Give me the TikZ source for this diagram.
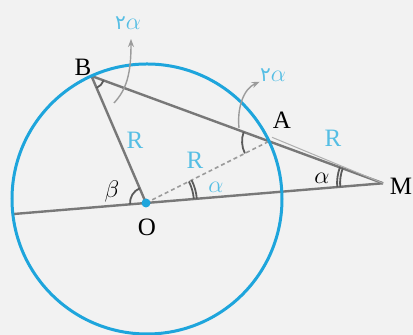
\documentclass[tikz,border=0pt]{standalone}
\usepackage{fontspec}
\setmainfont{Liberation Serif}
\newfontfamily\persianfont[Script=Arabic]{DejaVu Sans}
\usetikzlibrary{calc,angles,arrows.meta}
\definecolor{bgc}{RGB}{242,242,242}
\definecolor{circc}{RGB}{30,165,220}
\definecolor{labc}{RGB}{85,190,228}
\definecolor{linec}{RGB}{120,120,120}
\definecolor{markc}{RGB}{90,90,90}
\definecolor{arrc}{RGB}{155,155,155}
\tikzset{
  gline/.style={linec, line width=1.2pt},
  dline/.style={arrc, line width=0.8pt, dash pattern=on 2pt off 1.5pt},
  thinl/.style={arrc!80, line width=0.5pt},
  amark/.style={draw=markc, line width=0.9pt},
  pointer/.style={arrc, line width=0.7pt, -{Stealth[length=4pt,width=3pt]}},
  lab/.style={font=\fontsize{12.5}{14}\selectfont, inner sep=0pt},
  clab/.style={lab, text=labc},
}
\newcommand{\twoP}{{\persianfont\fontsize{10}{12}\selectfont ۲}}
\begin{document}
\begin{tikzpicture}[x=0.5pt,y=0.5pt]
\fill[bgc] (0,0) rectangle (413,335);
\useasboundingbox (0,0) rectangle (413,335);
% geometry
\coordinate (C) at (147,136);
\coordinate (O) at (146,132);
\coordinate (B) at ($(C)+(114.3:135)$);
\coordinate (A) at ($(C)+(25.3:135)$);
\coordinate (M) at ($(B)!1.642!(A)$);
\coordinate (L) at ($(M)!1.561!(O)$);
\coordinate (A2) at ($(A)+(3,4)$);
% lines
\draw[gline] (L) -- (M);
\draw[gline] (B) -- (M);
\draw[gline] (B) -- (O);
\draw[thinl] (A2) -- (M);
\draw[dline] (O) -- (A);
% circle
\draw[circc, line width=1.5pt] (C) circle[radius=135];
% angle marks
\pic[amark, angle radius=6.5pt] {angle=O--B--A};
\pic[amark, angle radius=13.5pt] {angle=B--A--O};
\pic[amark, angle radius=8pt] {angle=B--O--L};
\pic[amark, angle radius=24pt] {angle=M--O--A};
\pic[amark, angle radius=25.5pt] {angle=M--O--A};
\pic[amark, angle radius=21.5pt] {angle=A--M--O};
\pic[amark, angle radius=23pt] {angle=A--M--O};
% centre dot
\fill[circc] (O) circle[radius=4.5];
% labels
\node[lab] (lB) at (83,268) {B};
\node[lab] (lA) at (282,215) {A};
\node[lab] (lM) at (401,149) {M};
\node[lab] (lO) at (147,108) {O};
\node[lab] (lbeta) at (112,143) {$\beta$};
\node[lab] (laM) at (322,157) {$\alpha$};
\node[clab] (lR1) at (135,195) {R};
\node[clab] (lR2) at (195,175) {R};
\node[clab] (lR3) at (333,197) {R};
\node[clab] (laO) at (216,148) {$\alpha$};
\node[clab] (l2aB) at (128,312) {\twoP$\alpha$};
\node[clab] (l2aA) at (273,260) {\twoP$\alpha$};
% pointers
\coordinate (sB) at (114,232);
\coordinate (eB) at (131,296);
\coordinate (sA) at (239,207);
\draw[pointer] (sB) .. controls (127,246) and (131,262) .. (eB);
\draw[pointer] (sA) .. controls (237,226) and (243,246) .. (l2aA.south west);
\end{tikzpicture}
\end{document}
